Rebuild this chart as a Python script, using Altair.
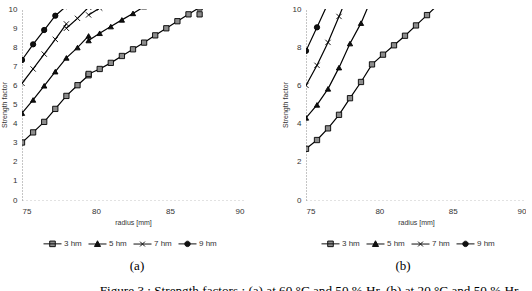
import altair as alt
import pandas as pd

SERIES = ["3 hm", "5 hm", "7 hm", "9 hm"]
CAPTION = "Figure 3 : Strength factors : (a) at 60 °C and 50 % Hr, (b) at 20 °C and 50 % Hr"

# ---- panel (a): 60 °C, 50 % Hr ----
A_3_IN_X = [75, 75.75, 76.5, 77.25, 78, 78.75, 79.5]
A_3_IN_Y = [3.01, 3.54, 4.09, 4.77, 5.45, 6.01, 6.53]
A_3_OUT_X = [79.5, 80.25, 81, 81.75, 82.5, 83.25, 84, 84.75, 85.5, 86.25, 87]
A_3_OUT_Y = [6.6, 6.86, 7.18, 7.54, 7.89, 8.24, 8.62, 8.99, 9.36, 9.72, 10.08]
A_3_EXTRA_X = [87]
A_3_EXTRA_Y = [9.72]
A_5_IN_X = [75, 75.75, 76.5, 77.25, 78, 78.75, 79.5]
A_5_IN_Y = [4.55, 5.24, 5.98, 6.72, 7.44, 7.98, 8.59]
A_5_OUT_X = [79.5, 80.25, 81, 81.75, 82.5, 83.25]
A_5_OUT_Y = [8.35, 8.73, 9.08, 9.43, 9.77, 10.12]
A_7_S1_X = [75, 75.75, 76.5, 77.25, 78]
A_7_S1_Y = [6.11, 6.86, 7.64, 8.41, 9.22]
A_7_S2_X = [78, 78.75, 79.5]
A_7_S2_Y = [8.99, 9.51, 10.09]
A_7_S3_X = [79.5, 80.25]
A_7_S3_Y = [9.69, 10.05]
A_9_X = [75, 75.75, 76.5, 77.25, 78]
A_9_Y = [7.33, 8.15, 8.9, 9.65, 10.15]

# ---- panel (b): 20 °C, 50 % Hr ----
B_3_X = [75, 75.75, 76.5, 77.25, 78, 78.75, 79.5, 80.25, 81, 81.75, 82.5, 83.25, 84]
B_3_Y = [2.68, 3.14, 3.75, 4.46, 5.33, 6.18, 7.1, 7.61, 8.1, 8.6, 9.14, 9.68, 10.22]
B_5_X = [75, 75.75, 76.5, 77.25, 78, 78.75, 79.5]
B_5_Y = [4.3, 4.98, 5.82, 6.93, 8.19, 9.26, 10.6]
B_7_X = [75, 75.75, 76.5, 77.25, 78]
B_7_Y = [6.0, 7.05, 8.25, 9.61, 11.0]
B_9_X = [75, 75.75, 76.5]
B_9_Y = [7.81, 9.04, 10.3]

A_SEGMENTS = [
    ("3 hm", A_3_IN_X, A_3_IN_Y), ("3 hm", A_3_OUT_X, A_3_OUT_Y), ("3 hm", A_3_EXTRA_X, A_3_EXTRA_Y),
    ("5 hm", A_5_IN_X, A_5_IN_Y), ("5 hm", A_5_OUT_X, A_5_OUT_Y),
    ("7 hm", A_7_S1_X, A_7_S1_Y), ("7 hm", A_7_S2_X, A_7_S2_Y), ("7 hm", A_7_S3_X, A_7_S3_Y),
    ("9 hm", A_9_X, A_9_Y),
]
B_SEGMENTS = [
    ("3 hm", B_3_X, B_3_Y), ("5 hm", B_5_X, B_5_Y), ("7 hm", B_7_X, B_7_Y), ("9 hm", B_9_X, B_9_Y),
]


def frame(segments):
    rows = []
    for k, (s, xs, ys) in enumerate(segments):
        for i, (xv, yv) in enumerate(zip(xs, ys)):
            rows.append({"series": s, "seg": f"{s}-{k}", "o": i, "r": xv, "sf": yv})
    return pd.DataFrame(rows)


MARK_SHAPES = ["square", "triangle-up", "M-1,-1L1,1M-1,1L1,-1", "circle"]
MARK_FILLS = ["#8c8c8c", "#111111", "#111111", "#111111"]
LEG_SHAPES = [
    "M-1,0H1M-0.31,-0.31H0.31V0.31H-0.31Z",
    "M-1,0H1M0,-0.36L0.34,0.28L-0.34,0.28Z",
    "M-1,0H1M-0.27,-0.27L0.27,0.27M-0.27,0.27L0.27,-0.27",
    "M-1,0H1M0.3,0A0.3,0.3 0 1,1 -0.3,0A0.3,0.3 0 1,1 0.3,0Z",
]

FONT = "Liberation Sans"
TXT = "#333333"


def panel(df, yvals, label, w, h, leg_x, leg_y, title_dx, title_pad):
    x = alt.X("r:Q", scale=alt.Scale(domain=[75, 90], nice=False, zero=False),
              axis=alt.Axis(values=[75, 80, 85, 90], title="radius [mm]", grid=False, ticks=False,
                            labelFont=FONT, labelFontSize=8, labelColor=TXT, labelPadding=7,
                            titleFont=FONT, titleFontSize=7, titleFontWeight="normal", titleColor=TXT,
                            titlePadding=3, domainColor="#c4c4c4", domainDash=[1, 3], domainWidth=1))
    y = alt.Y("sf:Q", scale=alt.Scale(domain=[0, 10], nice=False),
              axis=alt.Axis(values=yvals, title="Strength factor", grid=False, ticks=False,
                            labelFont=FONT, labelFontSize=8, labelColor=TXT, labelPadding=5,
                            titleFont=FONT, titleFontSize=7, titleFontWeight="normal", titleColor=TXT,
                            titlePadding=title_pad, domainColor="#8a8a8a", domainDash=[1, 2], domainWidth=1))
    base = alt.Chart(df).encode(x=x, y=y)
    lines = base.mark_line(color="black", strokeWidth=1.2, clip=True).encode(
        detail="seg:N", order="o:Q")
    pts = base.mark_point(filled=True, stroke="black", strokeWidth=0.9, size=28, opacity=1, clip=True).encode(
        shape=alt.Shape("series:N", scale=alt.Scale(domain=SERIES, range=MARK_SHAPES), legend=None),
        fill=alt.Fill("series:N", scale=alt.Scale(domain=SERIES, range=MARK_FILLS), legend=None),
    )
    leg_def = alt.Legend(orient="none", legendX=leg_x, legendY=leg_y, direction="horizontal", title=None,
                         labelFont=FONT, labelFontSize=8, labelColor=TXT, symbolSize=324,
                         symbolStrokeWidth=1, labelOffset=2, columnPadding=4, padding=0)
    leg = base.mark_point(filled=True, strokeWidth=1, size=324, opacity=1).encode(
        shape=alt.Shape("series:N", scale=alt.Scale(domain=SERIES, range=LEG_SHAPES), legend=leg_def),
        fill=alt.Fill("series:N", scale=alt.Scale(domain=SERIES, range=MARK_FILLS), legend=leg_def),
        stroke=alt.Stroke("series:N", scale=alt.Scale(domain=SERIES, range=["#111111"] * 4), legend=leg_def),
    ).transform_filter("false")
    return alt.layer(lines, pts, leg).resolve_scale(
        shape="independent", fill="independent", stroke="independent"
    ).resolve_legend(shape="independent", fill="independent", stroke="independent").properties(
        width=w, height=h,
        title=alt.TitleParams(label, orient="bottom", font="Liberation Serif", fontSize=13,
                              fontWeight="normal", color="black", offset=11, dx=title_dx, anchor="middle"),
    )


pa = panel(frame(A_SEGMENTS), list(range(0, 11)), "(a)", 222, 191, 21, 225, 4, 1)
pb = panel(frame(B_SEGMENTS), [0, 2, 4, 6, 8, 10], "(b)", 220, 191, 15, 225, -13, 3.5)

chart = alt.hconcat(pa, pb, spacing=37).resolve_scale(
    shape="independent", fill="independent", stroke="independent", x="independent", y="independent"
).resolve_legend(shape="independent", fill="independent", stroke="independent").properties(
    title=alt.TitleParams(CAPTION, orient="bottom", font="Liberation Serif", fontSize=13.2,
                          fontWeight="normal", color="black", offset=12, dx=46, anchor="middle"),
    padding={"left": 0, "top": 5, "right": 0, "bottom": 0},
    background="white",
).configure_view(stroke=None)

chart.save("out.html", embed_options={"renderer": "svg", "actions": False})
